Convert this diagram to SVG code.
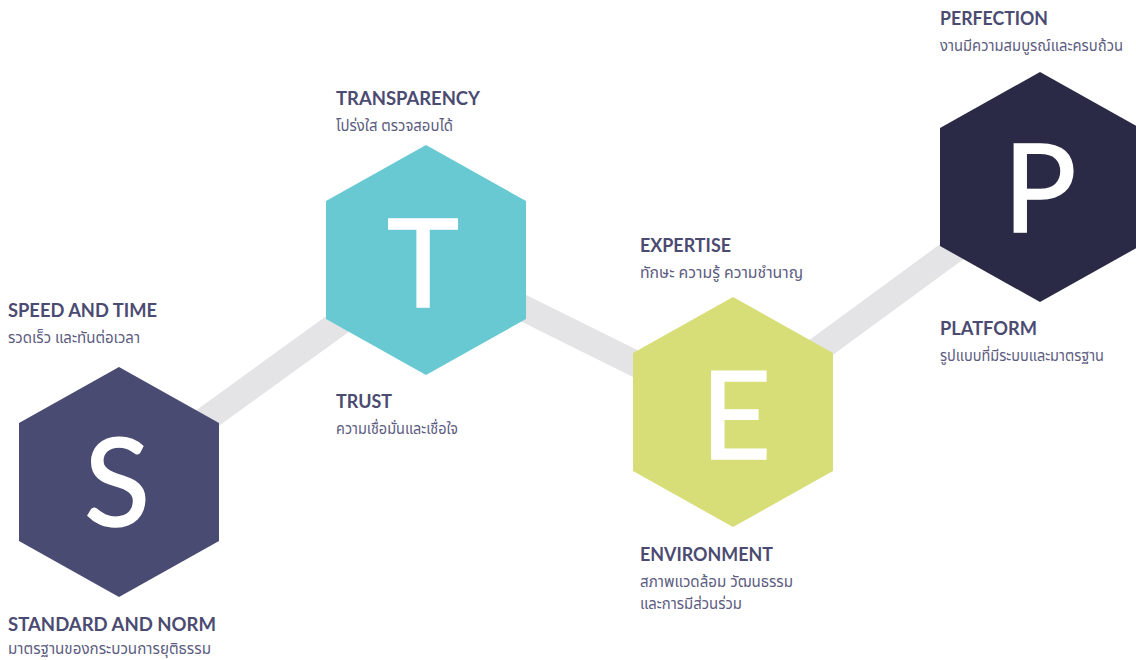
<svg xmlns="http://www.w3.org/2000/svg" width="1136" height="660" viewBox="0 0 1136 660">
<style>
.band{stroke:#e4e4e6;stroke-width:26;fill:none}
.h{font-family:Lato,"Liberation Sans",sans-serif;font-weight:700;font-size:19px;fill:#4b4b72}
.t{font-family:"Noto Sans Thai","Noto Sans","DejaVu Sans",sans-serif;font-size:15px;fill:#5c5c80}
.L{font-family:Lato,"Open Sans",sans-serif;font-weight:400;font-size:122px;fill:#ffffff;stroke:#ffffff;stroke-width:1.5;text-anchor:middle}
</style>
<defs>
<polygon id="hex" points="0,-115 100,-59 100,59 0,115 -100,59 -100,-59"/>
</defs>
<rect width="1136" height="660" fill="#ffffff"/>
<g id="connectors">
<line class="band" x1="119" y1="482" x2="426" y2="260"/>
<line class="band" x1="426" y1="260" x2="733" y2="412"/>
<line class="band" x1="733" y1="412" x2="1040" y2="187"/>
</g>
<g id="node-s">
<use href="#hex" x="119" y="482" fill="#4a4b72"/>
<text class="L" x="117" y="526">S</text>
<text class="h" x="8" y="317" textLength="149" lengthAdjust="spacingAndGlyphs">SPEED AND TIME</text>
<text class="t" x="8" y="343" textLength="132" lengthAdjust="spacingAndGlyphs">รวดเร็ว และทันต่อเวลา</text>
<text class="h" x="8" y="631" textLength="208" lengthAdjust="spacingAndGlyphs">STANDARD AND NORM</text>
<text class="t" x="8" y="654" textLength="203" lengthAdjust="spacingAndGlyphs">มาตรฐานของกระบวนการยุติธรรม</text>
</g>
<g id="node-t">
<use href="#hex" x="426" y="260" fill="#68c9d2"/>
<text class="L" x="423" y="307">T</text>
<text class="h" x="336" y="105" textLength="144" lengthAdjust="spacingAndGlyphs">TRANSPARENCY</text>
<text class="t" x="336" y="131" textLength="117" lengthAdjust="spacingAndGlyphs">โปร่งใส ตรวจสอบได้</text>
<text class="h" x="336" y="408" textLength="56" lengthAdjust="spacingAndGlyphs">TRUST</text>
<text class="t" x="336" y="434" textLength="122" lengthAdjust="spacingAndGlyphs">ความเชื่อมั่นและเชื่อใจ</text>
</g>
<g id="node-e">
<use href="#hex" x="733" y="412" fill="#d7de77"/>
<text class="L" x="736" y="459">E</text>
<text class="h" x="640" y="252" textLength="91" lengthAdjust="spacingAndGlyphs">EXPERTISE</text>
<text class="t" x="640" y="278" textLength="163" lengthAdjust="spacingAndGlyphs">ทักษะ ความรู้ ความชำนาญ</text>
<text class="h" x="640" y="561" textLength="133" lengthAdjust="spacingAndGlyphs">ENVIRONMENT</text>
<text class="t" x="640" y="587" textLength="153" lengthAdjust="spacingAndGlyphs">สภาพแวดล้อม วัฒนธรรม</text>
<text class="t" x="640" y="609" textLength="102" lengthAdjust="spacingAndGlyphs">และการมีส่วนร่วม</text>
</g>
<g id="node-p">
<use href="#hex" x="1040" y="187" fill="#2b2a46"/>
<text class="L" x="1040" y="232">P</text>
<text class="h" x="940" y="25" textLength="108" lengthAdjust="spacingAndGlyphs">PERFECTION</text>
<text class="t" x="940" y="51" textLength="183" lengthAdjust="spacingAndGlyphs">งานมีความสมบูรณ์และครบถ้วน</text>
<text class="h" x="940" y="335" textLength="97" lengthAdjust="spacingAndGlyphs">PLATFORM</text>
<text class="t" x="940" y="361" textLength="164" lengthAdjust="spacingAndGlyphs">รูปแบบที่มีระบบและมาตรฐาน</text>
</g>
</svg>
